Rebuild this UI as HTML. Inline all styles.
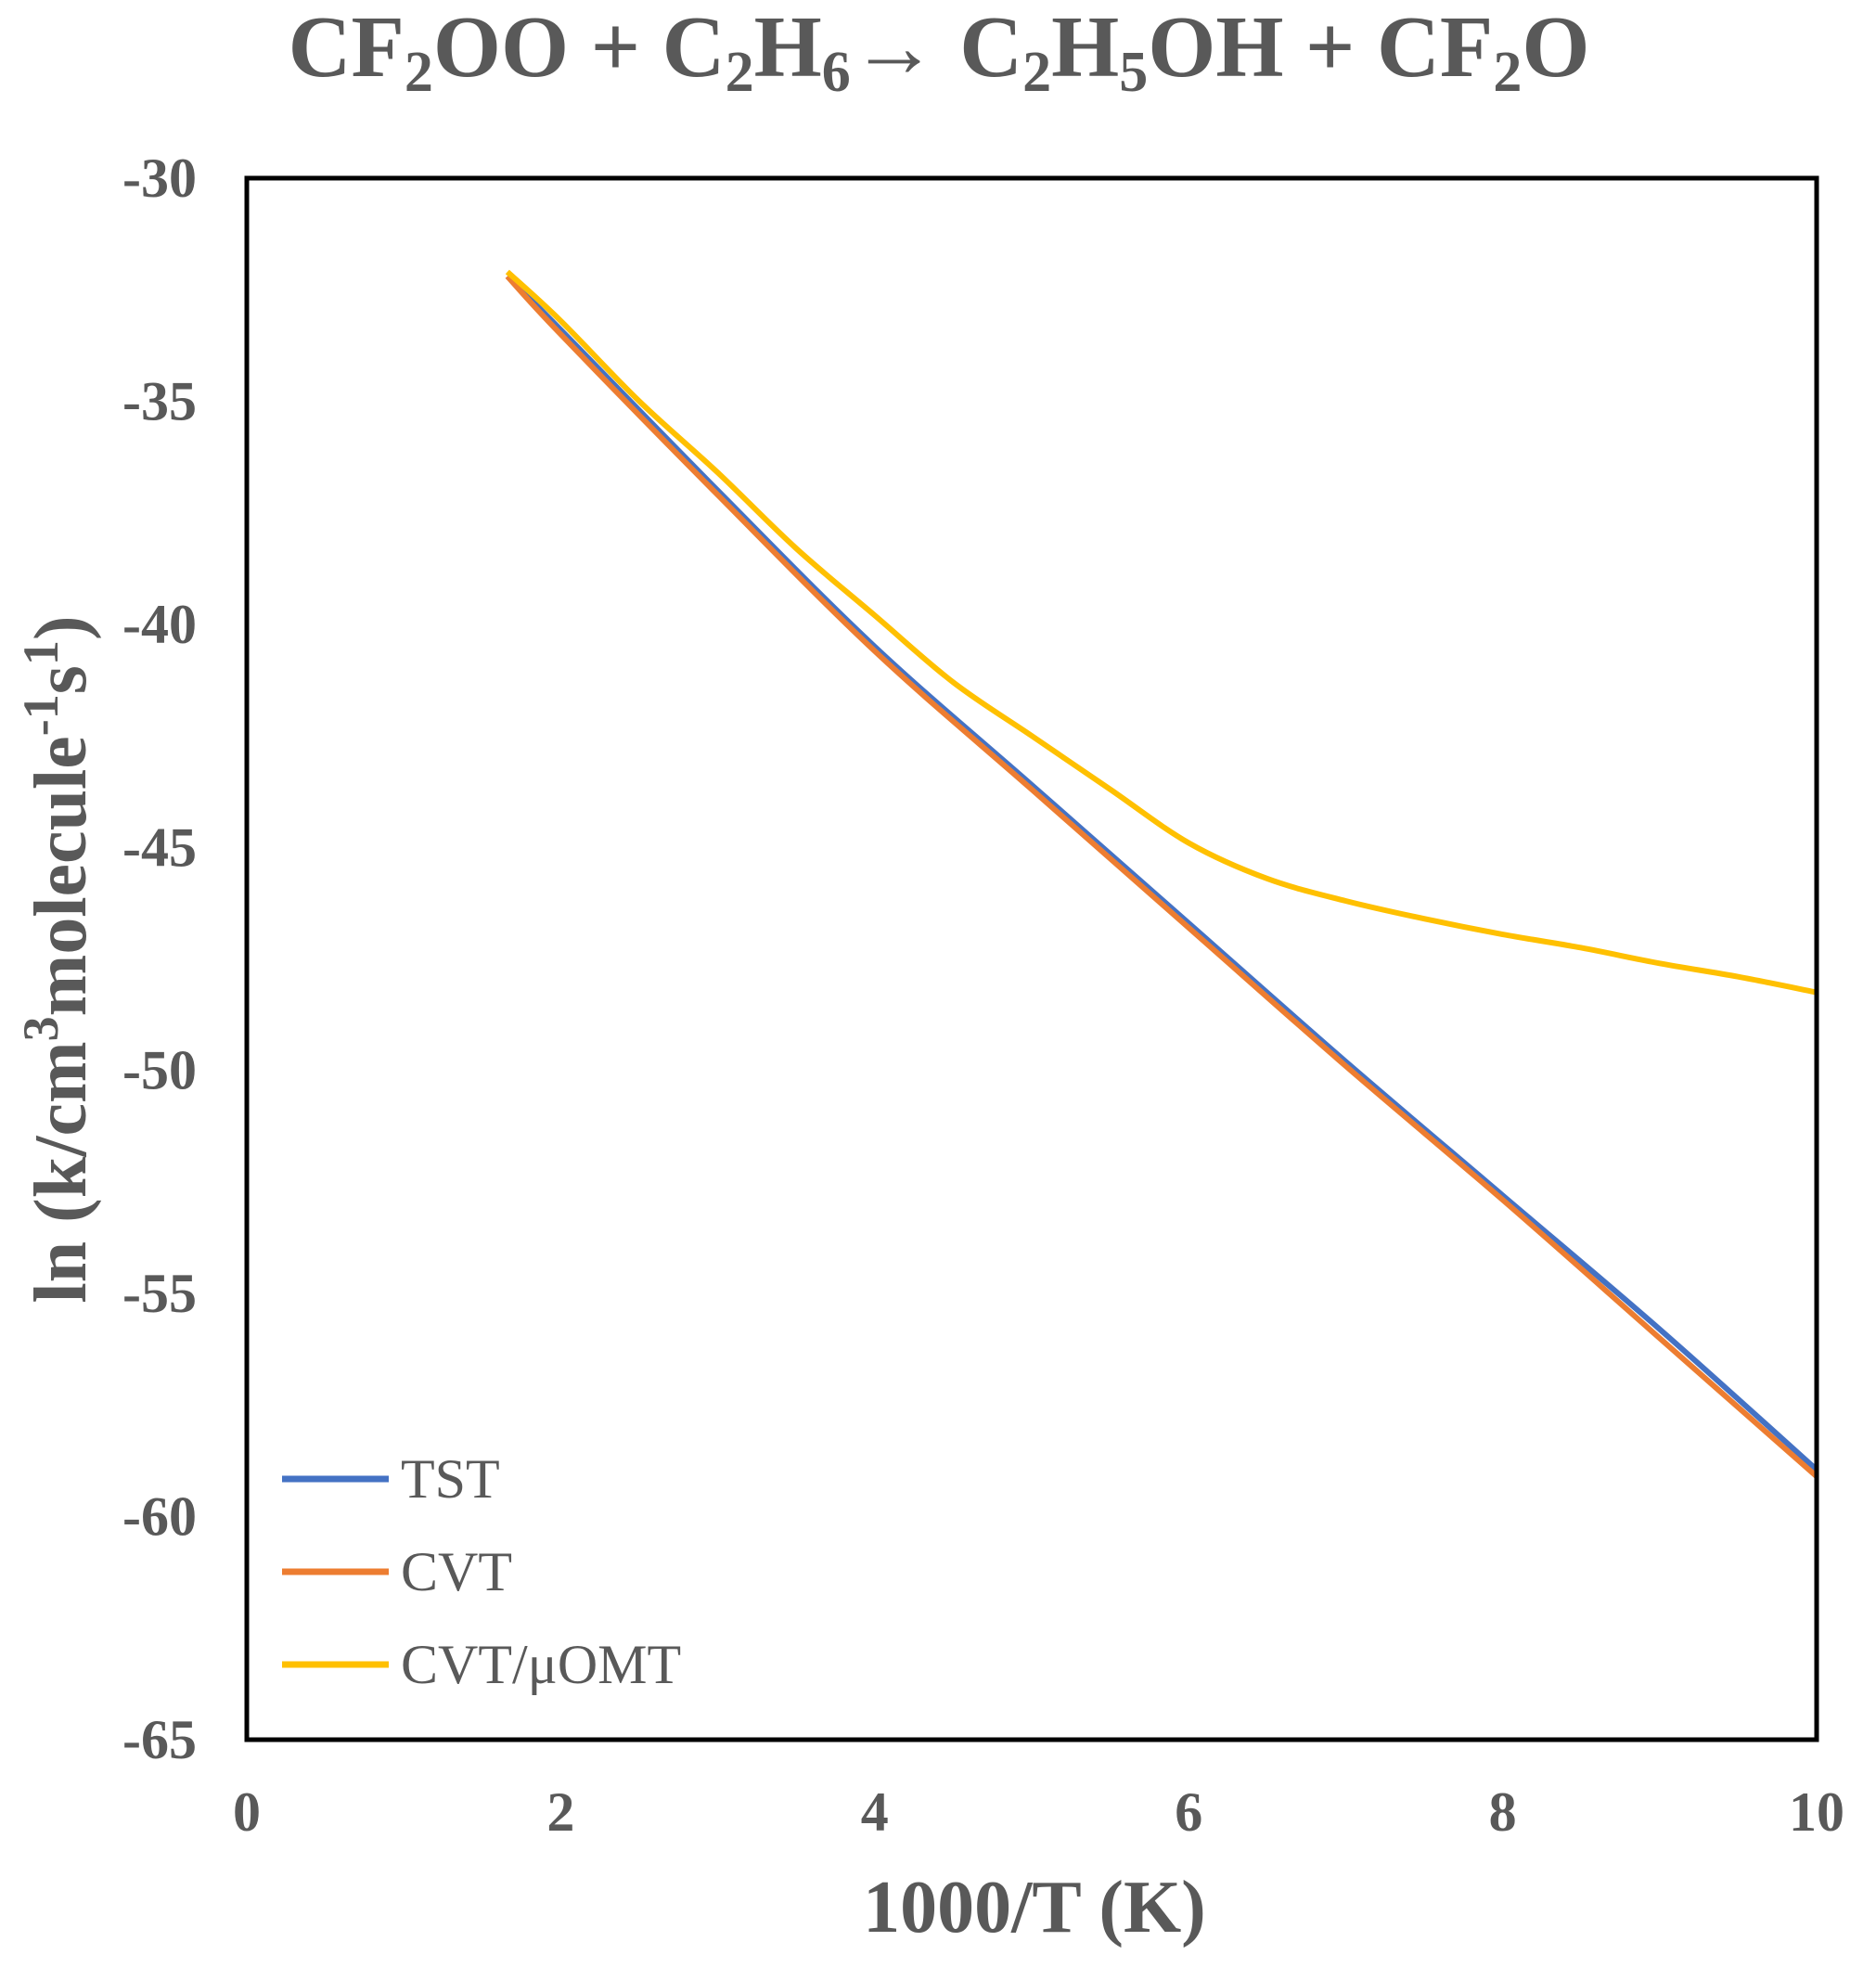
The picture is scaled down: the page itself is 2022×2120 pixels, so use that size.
<!DOCTYPE html>
<html><head><meta charset="utf-8"><style>
html,body{margin:0;padding:0;background:#fff;}
svg{display:block;}
text{font-family:"Liberation Serif",serif;fill:#595959;}
</style></head><body>
<svg id="chart" width="2022" height="2120" viewBox="0 0 2022 2120">
<text x="1012" y="82" text-anchor="middle" font-size="94" font-weight="bold">CF<tspan font-size="62" dy="16">2</tspan><tspan dy="-16">OO + C</tspan><tspan font-size="62" dy="16">2</tspan><tspan dy="-16">H</tspan><tspan font-size="62" dy="16">6</tspan><tspan dy="-16">→ C</tspan><tspan font-size="62" dy="16">2</tspan><tspan dy="-16">H</tspan><tspan font-size="62" dy="16">5</tspan><tspan dy="-16">OH + CF</tspan><tspan font-size="62" dy="16">2</tspan><tspan dy="-16">O</tspan></text>
<g id="series"></g>
<rect x="266" y="192" width="1692" height="1683" fill="none" stroke="#000" stroke-width="5"/>
<g id="yticks"></g>
<g id="xticks"></g>
<text x="1115" y="2082" text-anchor="middle" font-size="80" font-weight="bold">1000/T (K)</text>
<text transform="translate(92,1034) rotate(-90)" text-anchor="middle" font-size="80" font-weight="bold">ln (k/cm<tspan font-size="54" dy="-30">3</tspan><tspan dy="30">molecule</tspan><tspan font-size="54" dy="-30">-1</tspan><tspan dy="30">s</tspan><tspan font-size="54" dy="-30">1</tspan><tspan dy="30">)</tspan></text>
<g id="legend"></g>
</svg>
<script>
const xTicks=[0,2,4,6,8,10];
const yTicks=[-30,-35,-40,-45,-50,-55,-60,-65];
const seriesNames=["TST","CVT","CVT/μOMT"];
const xTST=[1.66,2,3,4,5,6,7,8,9,10];
const yTST=[-32.2,-33.4,-37.0,-40.5,-43.6,-46.7,-49.8,-52.8,-55.8,-58.95];
const xCVT=[1.66,2,3,4,5,6,7,8,9,10];
const yCVT=[-32.2,-33.5,-37.1,-40.6,-43.7,-46.8,-49.9,-52.9,-56.0,-59.1];
const xOMT=[1.66,2,2.5,3,3.5,4,4.5,5,5.5,6,6.5,7,7.5,8,8.5,9,9.5,10];
const yOMT=[-32.1,-33.2,-35.0,-36.6,-38.3,-39.8,-41.3,-42.5,-43.7,-44.9,-45.7,-46.2,-46.6,-46.95,-47.25,-47.6,-47.9,-48.25];
const colors=["#4472C4","#ED7D31","#FFC000"];
const X0=266,X1=1958,Y0=192,Y1=1875;
const sx=v=>X0+(v-0)/(10-0)*(X1-X0);
const sy=v=>Y0+(-30-v)/35*(Y1-Y0);
const NS="http://www.w3.org/2000/svg";
const sg=document.getElementById('series');
[[xTST,yTST],[xCVT,yCVT],[xOMT,yOMT]].forEach((s,i)=>{
  const p=document.createElementNS(NS,'path');
  const pts=s[0].map((x,j)=>[sx(x),sy(s[1][j])]);
  let d='M'+pts[0][0]+','+pts[0][1];
  for(let j=0;j<pts.length-1;j++){
    const p0=pts[j-1]||pts[j],p1=pts[j],p2=pts[j+1],p3=pts[j+2]||p2;
    d+=' C'+(p1[0]+(p2[0]-p0[0])/6)+','+(p1[1]+(p2[1]-p0[1])/6)+' '+(p2[0]-(p3[0]-p1[0])/6)+','+(p2[1]-(p3[1]-p1[1])/6)+' '+p2[0]+','+p2[1];
  }
  p.setAttribute('d',d);p.setAttribute('fill','none');p.setAttribute('stroke',colors[i]);p.setAttribute('stroke-width','6');
  
  
  sg.appendChild(p);
});
const yg=document.getElementById('yticks');
yTicks.forEach(v=>{
  const t=document.createElementNS(NS,'text');
  t.setAttribute('x',212);t.setAttribute('y',sy(v)+20);t.setAttribute('text-anchor','end');
  t.setAttribute('font-size','60');t.setAttribute('font-weight','bold');t.textContent=v;
  
  
  yg.appendChild(t);
});
const xg=document.getElementById('xticks');
xTicks.forEach(v=>{
  const t=document.createElementNS(NS,'text');
  t.setAttribute('x',sx(v));t.setAttribute('y',1973);t.setAttribute('text-anchor','middle');
  t.setAttribute('font-size','60');t.setAttribute('font-weight','bold');t.textContent=v;
  
  
  xg.appendChild(t);
});
const lg=document.getElementById('legend');
seriesNames.forEach((n,i)=>{
  const y=1594+i*100;
  const l=document.createElementNS(NS,'line');
  l.setAttribute('x1',304);l.setAttribute('x2',419);l.setAttribute('y1',y);l.setAttribute('y2',y);
  l.setAttribute('stroke',colors[i]);l.setAttribute('stroke-width','7');
  
  
  lg.appendChild(l);
  const t=document.createElementNS(NS,'text');
  t.setAttribute('x',432);t.setAttribute('y',y+20);t.setAttribute('font-size','60');t.textContent=n;
  
  
  lg.appendChild(t);
});
</script>
</body></html>
